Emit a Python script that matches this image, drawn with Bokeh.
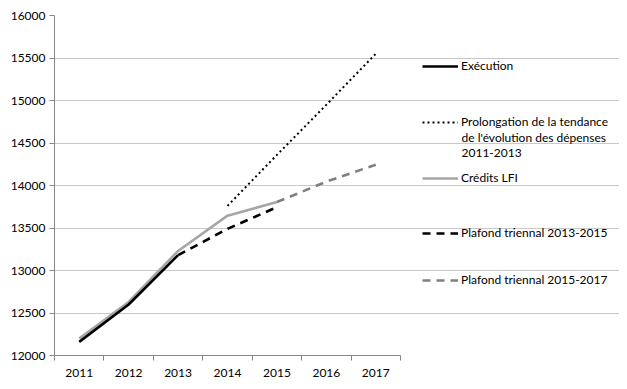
from bokeh.plotting import figure
from bokeh.models import FixedTicker, Legend, LegendItem, Label
from bokeh.embed import file_html
from bokeh.resources import INLINE

years = [2011, 2012, 2013, 2014, 2015, 2016, 2017]

exec_years = [2011, 2012, 2013]
execution = [12160, 12600, 13180]

trend_years = [2014, 2015, 2016, 2017]
trend = [13760, 14360, 14950, 15550]

lfi_years = [2011, 2012, 2013, 2014, 2015]
credits_lfi = [12200, 12630, 13230, 13645, 13805]

p1_years = [2013, 2014, 2015]
plafond_1315 = [13180, 13490, 13745]

p2_years = [2015, 2016, 2017]
plafond_1517 = [13805, 14045, 14245]

y_ticks = list(range(12000, 16001, 500))

legend_labels = ["Exécution", "Prolongation de la tendance",
                 "Crédits LFI", "Plafond triennal 2013-2015",
                 "Plafond triennal 2015-2017"]
trend_label_rest = "de l'évolution des dépenses\n2011-2013"

FONT = "Lato"
FS = "12px"

X0, X1 = years[0] - 0.5, years[-1] + 0.5
x_end = X0 + (X1 - X0) * (619 - 54) / 346.0

p = figure(width=619, height=381, output_backend="svg", toolbar_location=None,
           x_range=(X0, x_end), y_range=(12000, 16000),
           min_border_left=54, min_border_right=0, min_border_top=15,
           min_border_bottom=26)
p.outline_line_color = None
p.background_fill_color = "white"
p.border_fill_color = "white"

r_lfi = p.line(lfi_years, credits_lfi, line_color="#a6a6a6", line_width=2.6)
r_exec = p.line(exec_years, execution, line_color="black", line_width=2.6)
r_p1 = p.line(p1_years, plafond_1315, line_color="black", line_width=2.6, line_dash="8 6")
r_p2 = p.line(p2_years, plafond_1517, line_color="#808080", line_width=2.6, line_dash="8 6")
r_tr = p.line(trend_years, trend, line_color="black", line_width=2, line_dash="2 3")

p.xgrid.grid_line_color = None
p.ygrid.grid_line_color = "#c8c8c8"
p.ygrid.grid_line_width = 1
p.ygrid.ticker = FixedTicker(ticks=y_ticks)
p.ygrid.bounds = (X0, X1)

xa = p.xaxis[0]
xa.bounds = (X0, X1)
xa.ticker = FixedTicker(ticks=years, minor_ticks=[y - 0.5 for y in years] + [X1])
xa.major_tick_in = 0
xa.major_tick_out = 0
xa.minor_tick_in = 0
xa.minor_tick_out = 5
xa.minor_tick_line_color = "#868686"
xa.axis_line_color = "#868686"
xa.major_label_text_font = FONT
xa.major_label_text_font_size = FS
xa.major_label_text_color = "black"
xa.major_label_standoff = 8

ya = p.yaxis[0]
ya.ticker = FixedTicker(ticks=y_ticks)
ya.major_tick_in = 0
ya.major_tick_out = 5
ya.minor_tick_line_color = None
ya.major_tick_line_color = "#868686"
ya.axis_line_color = "#868686"
ya.major_label_text_font = FONT
ya.major_label_text_font_size = FS
ya.major_label_text_color = "black"
ya.major_label_standoff = 4

# legend layout (screen offsets from frame bottom-left)
leg_x = 368
leg_y = [289, 233, 177, 122, 75]
renderers = [r_exec, r_tr, r_lfi, r_p1, r_p2]
for label, rend, yc in zip(legend_labels, renderers, leg_y):
    lg = Legend(items=[LegendItem(label=label, renderers=[rend])],
                location=(leg_x, yc - 7), padding=0, margin=0, spacing=0,
                border_line_color=None, background_fill_alpha=0,
                glyph_width=36, glyph_height=14, label_height=14,
                label_standoff=3, label_text_font=FONT,
                label_text_font_size=FS, label_text_color="black")
    p.add_layout(lg, "center")

p.add_layout(Label(x=leg_x + 39, y=226, x_units="screen", y_units="screen",
                   text=trend_label_rest, text_font=FONT, text_font_size=FS,
                   text_color="black", text_baseline="top", text_align="left",
                   text_line_height=1.05))

open("out.html", "w").write(file_html(p, INLINE))
